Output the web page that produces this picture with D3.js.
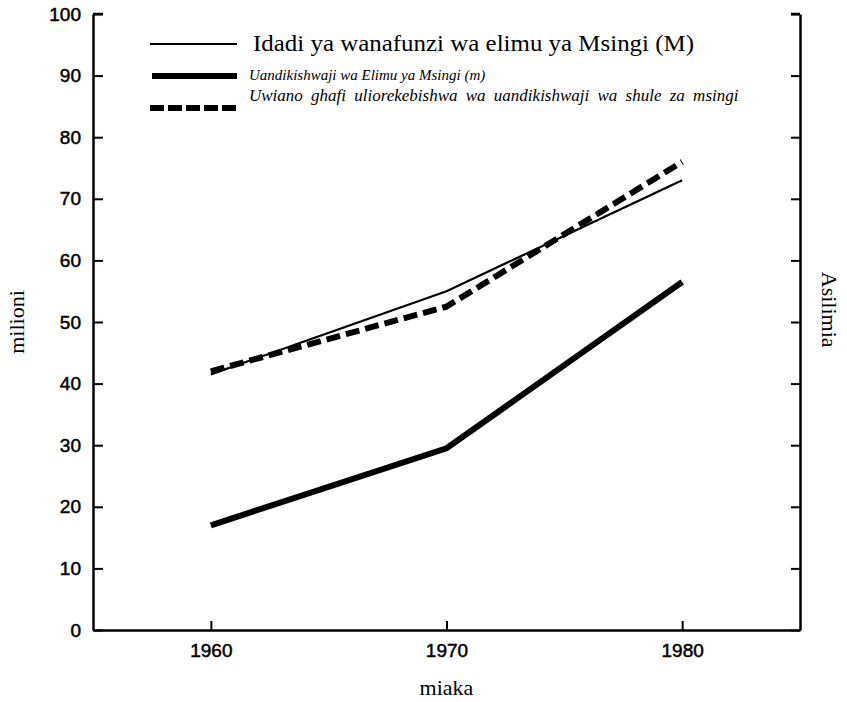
<!DOCTYPE html>
<html>
<head>
  <meta charset="utf-8">
  <script src="https://cdnjs.cloudflare.com/ajax/libs/d3/7.8.5/d3.min.js"></script>
  <title>Elimu ya Msingi</title>
  <style>
    body { margin: 0; background: #fff; }
    .tick text { font-family: "Liberation Sans", Arial, sans-serif; font-size: 19px; fill: #000; stroke: #000; stroke-width: 0.5px; }
    .domain, .tick line { stroke: #000; }
    .serif { font-family: "Liberation Serif", "Times New Roman", serif; fill: #000; }
  </style>
</head>
<body>
<script>
// values
const years = [1960, 1970, 1980];
const idadi = [41.5, 55, 73];          // Idadi ya wanafunzi (M)
const uandikishwaji = [17, 29.5, 56.5]; // Uandikishwaji (m)
const uwiano = [42, 52.5, 76];          // Uwiano ghafi (asilimia)
const yTicks = [0, 10, 20, 30, 40, 50, 60, 70, 80, 90, 100];

const legendLabels = [
  "Idadi ya wanafunzi wa elimu ya Msingi (M)",
  "Uandikishwaji wa Elimu ya Msingi (m)",
  "Uwiano ghafi uliorekebishwa wa uandikishwaji  wa shule za msingi"
];

const W = 847, H = 702;
const margin = {top: 14, right: 47, bottom: 72, left: 93};

const svg = d3.select("body").append("svg")
    .attr("width", W)
    .attr("height", H);

const x = d3.scaleLinear()
    .domain([1955, 1985])
    .range([margin.left, W - margin.right]);

const y = d3.scaleLinear()
    .domain([0, 100])
    .range([H - margin.bottom, margin.top]);

// left axis
const gl = svg.append("g")
    .attr("transform", "translate(" + margin.left + ",0)")
    .call(d3.axisLeft(y).tickValues(yTicks).tickSizeInner(-10).tickSizeOuter(0).tickPadding(12));
gl.select(".domain").attr("stroke-width", 2.5);
gl.selectAll(".tick line").attr("stroke-width", 2);

// right axis, no labels
const gr = svg.append("g")
    .attr("transform", "translate(" + (W - margin.right) + ",0)")
    .call(d3.axisRight(y).tickValues(yTicks).tickSizeInner(-9).tickSizeOuter(0).tickFormat(""));
gr.select(".domain").attr("stroke-width", 2.5);
gr.selectAll(".tick line").attr("stroke-width", 2);

// bottom axis
const gb = svg.append("g")
    .attr("transform", "translate(0," + (H - margin.bottom) + ")")
    .call(d3.axisBottom(x).tickValues(years).tickFormat(d3.format("d")).tickSizeInner(-9).tickSizeOuter(0).tickPadding(14));
gb.select(".domain").attr("stroke-width", 2.5);
gb.selectAll(".tick line").attr("stroke-width", 2);

// small caps at the top corners
svg.append("line")
    .attr("x1", margin.left).attr("x2", margin.left + 10)
    .attr("y1", y(100)).attr("y2", y(100))
    .attr("stroke", "#000").attr("stroke-width", 2.5);
svg.append("line")
    .attr("x1", W - margin.right - 9).attr("x2", W - margin.right)
    .attr("y1", y(100)).attr("y2", y(100))
    .attr("stroke", "#000").attr("stroke-width", 2.5);

// axis titles
svg.append("text")
    .attr("class", "serif")
    .attr("transform", "translate(24," + y(50) + ") rotate(-90)")
    .style("text-anchor", "middle")
    .style("font-size", "22px")
    .text("milioni");

svg.append("text")
    .attr("class", "serif")
    .attr("transform", "translate(822," + y(52) + ") rotate(90)")
    .style("text-anchor", "middle")
    .style("font-size", "22px")
    .text("Asilimia");

svg.append("text")
    .attr("class", "serif")
    .attr("x", x(1970))
    .attr("y", 695)
    .style("text-anchor", "middle")
    .style("font-size", "22px")
    .text("miaka");

// lines
const line = d3.line()
    .x((d, i) => x(years[i]))
    .y(d => y(d));

svg.append("path")
    .datum(idadi)
    .attr("d", line)
    .attr("fill", "none")
    .attr("stroke", "#000")
    .attr("stroke-width", 2.2);

svg.append("path")
    .datum(uandikishwaji)
    .attr("d", line)
    .attr("fill", "none")
    .attr("stroke", "#000")
    .attr("stroke-width", 6);

svg.append("path")
    .datum(uwiano)
    .attr("d", line)
    .attr("fill", "none")
    .attr("stroke", "#000")
    .attr("stroke-width", 6)
    .attr("stroke-dasharray", "14,6");

// legend
const legend = svg.append("g");

legend.append("line")
    .attr("x1", 150).attr("x2", 237).attr("y1", 44).attr("y2", 44)
    .attr("stroke", "#000").attr("stroke-width", 2.2);
legend.append("text")
    .attr("class", "serif")
    .attr("x", 253).attr("y", 51)
    .style("font-size", "23px")
    .attr("textLength", 441)
    .attr("lengthAdjust", "spacingAndGlyphs")
    .text(legendLabels[0]);

legend.append("line")
    .attr("x1", 152).attr("x2", 237).attr("y1", 76).attr("y2", 76)
    .attr("stroke", "#000").attr("stroke-width", 6);
legend.append("text")
    .attr("class", "serif")
    .attr("x", 249).attr("y", 80)
    .style("font-size", "15px")
    .style("font-style", "italic")
    .text(legendLabels[1]);

legend.append("line")
    .attr("x1", 150).attr("x2", 237).attr("y1", 108).attr("y2", 108)
    .attr("stroke", "#000").attr("stroke-width", 6)
    .attr("stroke-dasharray", "14,4");
legend.append("text")
    .attr("class", "serif")
    .attr("x", 249).attr("y", 101)
    .style("font-size", "17px")
    .style("font-style", "italic")
    .style("word-spacing", "4px")
    .text(legendLabels[2]);
</script>
</body>
</html>
